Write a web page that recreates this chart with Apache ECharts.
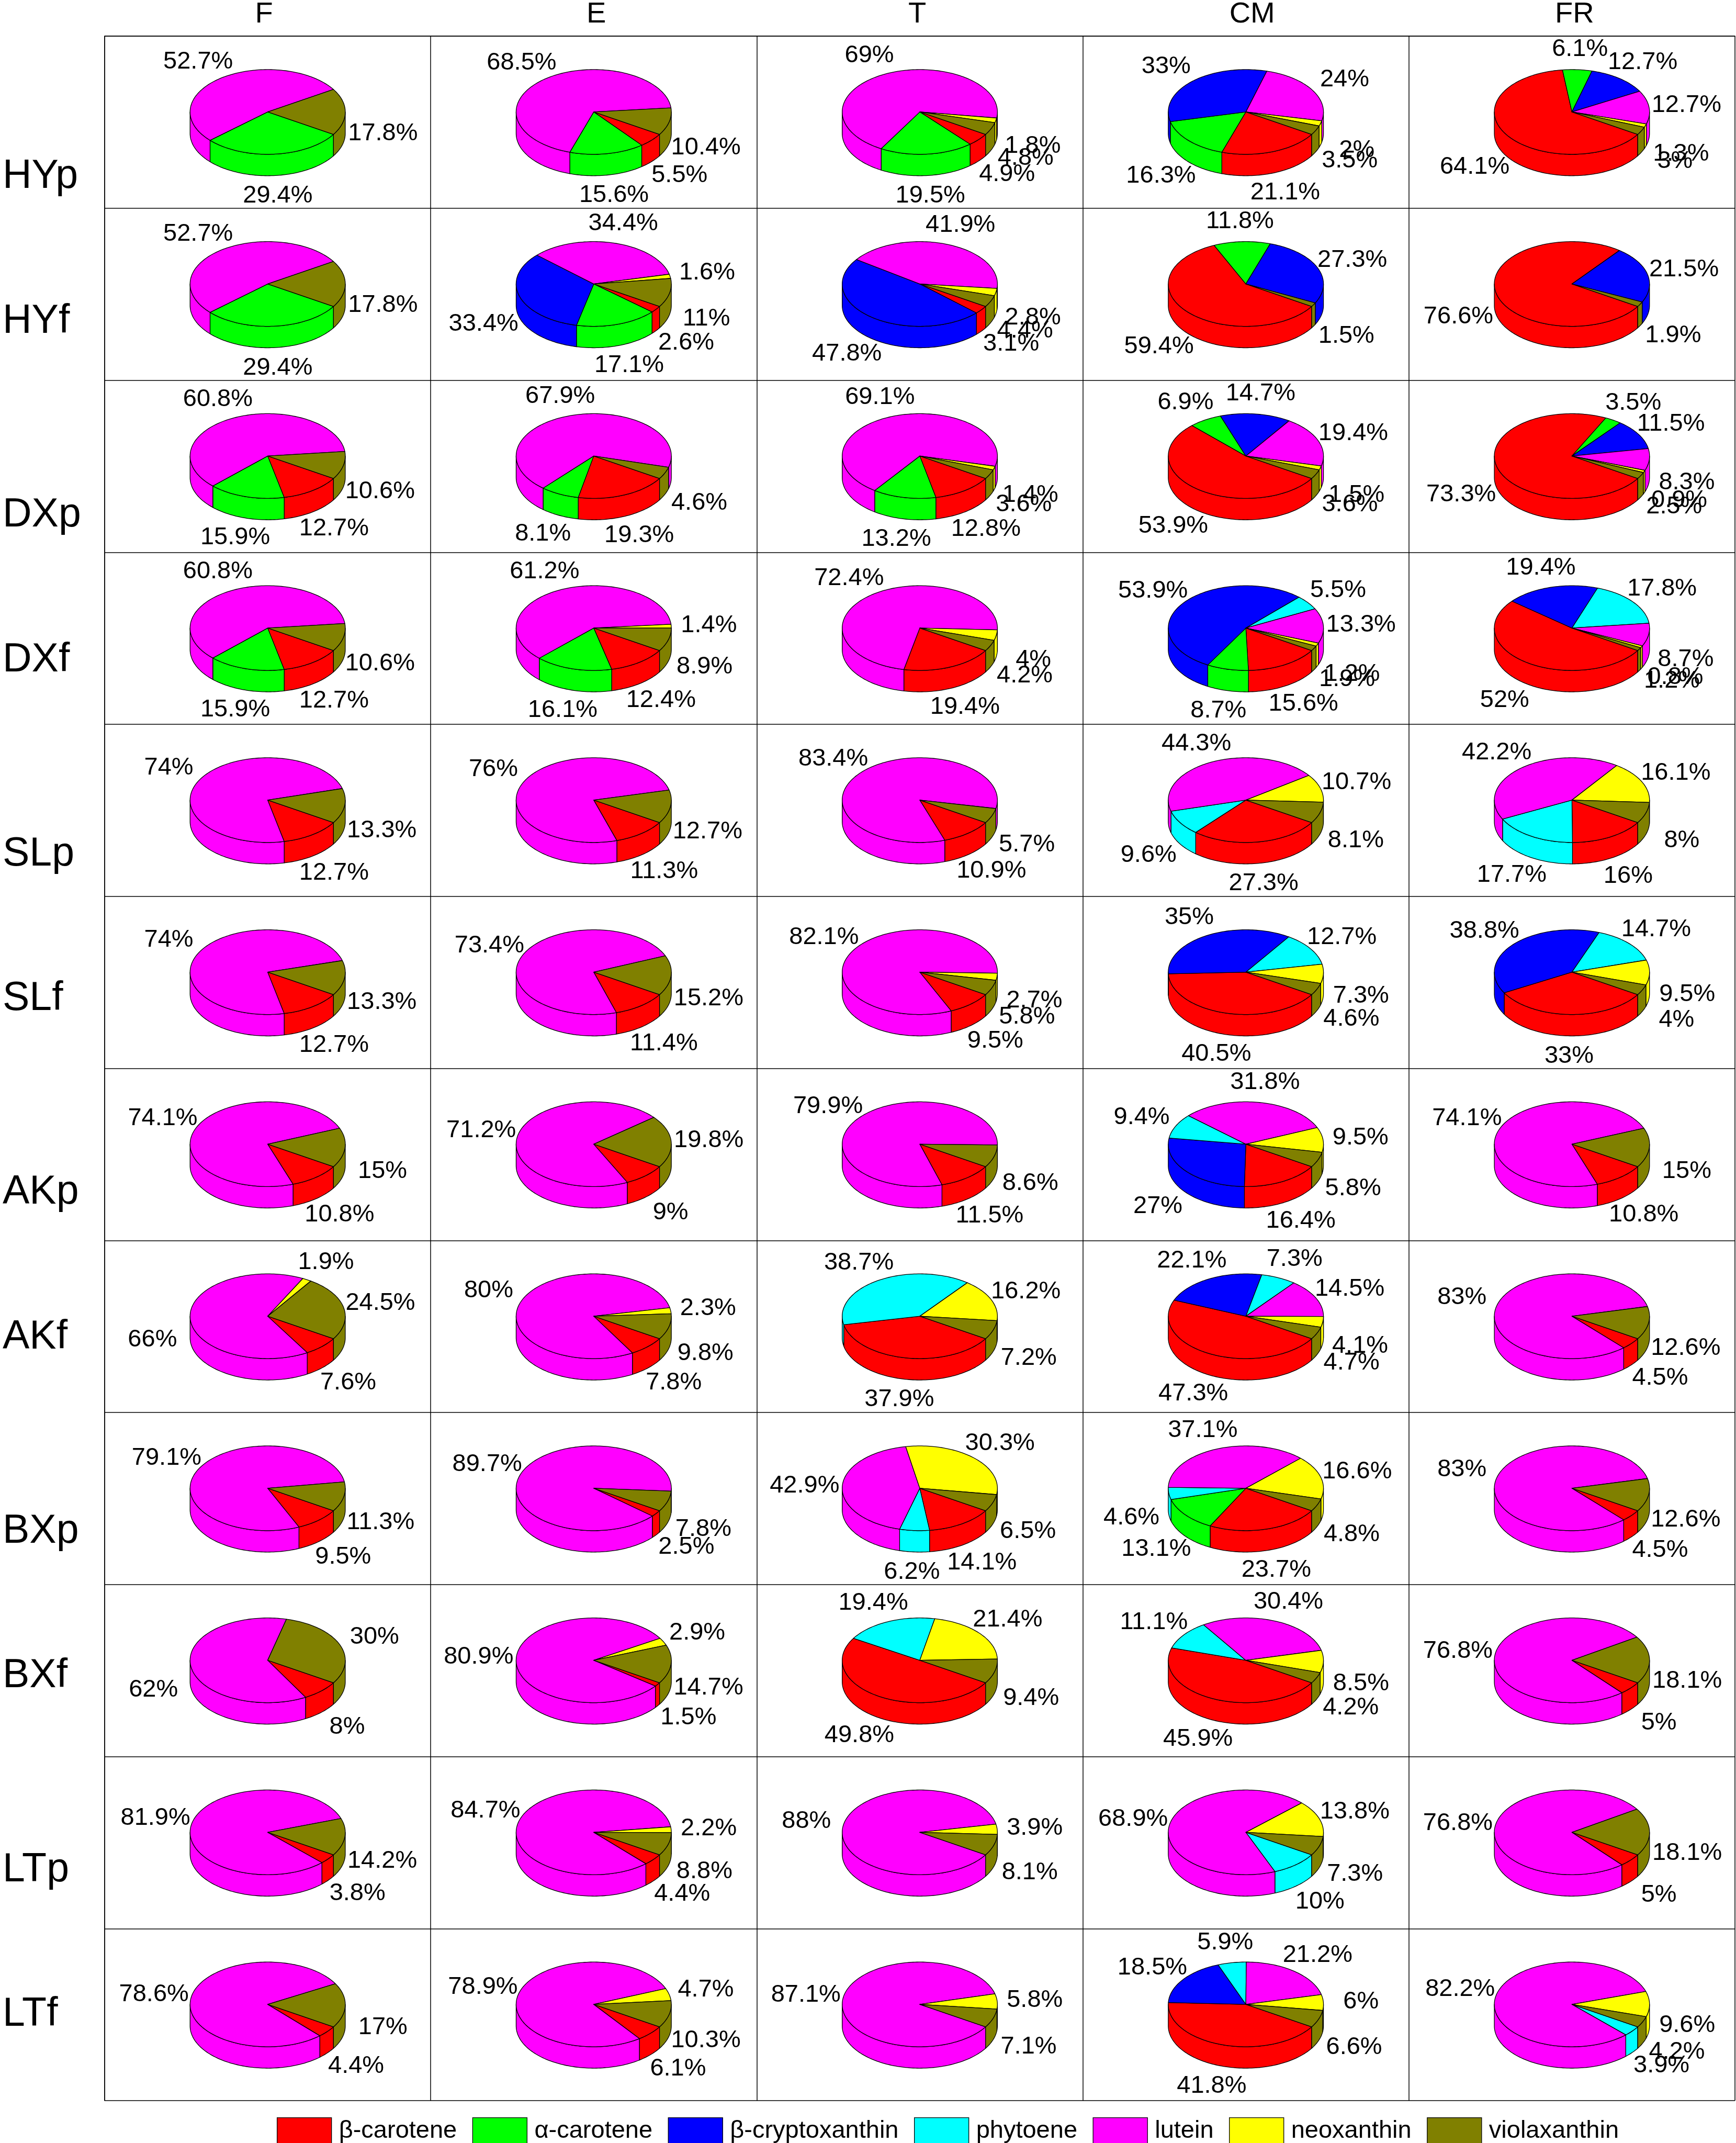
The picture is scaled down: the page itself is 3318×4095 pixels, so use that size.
<!DOCTYPE html>
<html><head><meta charset="utf-8">
<style>html,body{margin:0;padding:0;background:#fff}#c{width:3318px;height:4095px}</style>
<script src="https://cdn.jsdelivr.net/npm/echarts@6/dist/echarts.min.js"></script>
</head><body><div id="c"></div>
<script>
const tissues = ['F','E','T','CM','FR'];
const stages = ['HYp','HYf','DXp','DXf','SLp','SLf','AKp','AKf','BXp','BXf','LTp','LTf'];
const pigments = ['β-carotene','α-carotene','β-cryptoxanthin','phytoene','lutein','neoxanthin','violaxanthin'];
const betaCarotene = [
 [0,5.5,4.9,21.1,64.1],[0,2.6,3.1,59.4,76.6],[12.7,19.3,12.8,53.9,73.3],[12.7,12.4,19.4,15.6,52],
 [12.7,11.3,10.9,27.3,16],[12.7,11.4,9.5,40.5,33],[10.8,9,11.5,16.4,10.8],[7.6,7.8,37.9,47.3,4.5],
 [9.5,2.5,14.1,23.7,4.5],[8,1.5,49.8,45.9,5],[3.8,4.4,0,0,5],[4.4,6.1,0,41.8,0]];
const alphaCarotene = [
 [29.4,15.6,19.5,16.3,6.1],[29.4,17.1,0,11.8,0],[15.9,8.1,13.2,6.9,3.5],[15.9,16.1,0,8.7,0],
 [0,0,0,0,0],[0,0,0,0,0],[0,0,0,0,0],[0,0,0,0,0],
 [0,0,0,13.1,0],[0,0,0,0,0],[0,0,0,0,0],[0,0,0,0,0]];
const betaCryptoxanthin = [
 [0,0,0,33,12.7],[0,33.4,47.8,27.3,21.5],[0,0,0,14.7,11.5],[0,0,0,53.9,19.4],
 [0,0,0,0,0],[0,0,0,35,38.8],[0,0,0,27,0],[0,0,0,22.1,0],
 [0,0,0,0,0],[0,0,0,0,0],[0,0,0,0,0],[0,0,0,18.5,0]];
const phytoene = [
 [0,0,0,0,0],[0,0,0,0,0],[0,0,0,0,0],[0,0,0,5.5,17.8],
 [0,0,0,9.6,17.7],[0,0,0,12.7,14.7],[0,0,0,9.4,0],[0,0,38.7,7.3,0],
 [0,0,6.2,4.6,0],[0,0,19.4,11.1,0],[0,0,0,10,0],[0,0,0,5.9,3.9]];
const lutein = [
 [52.7,68.5,69,24,12.7],[52.7,34.4,41.9,0,0],[60.8,67.9,69.1,19.4,8.3],[60.8,61.2,72.4,13.3,8.7],
 [74,76,83.4,44.3,42.2],[74,73.4,82.1,0,0],[74.1,71.2,79.9,31.8,74.1],[66,80,0,14.5,83],
 [79.1,89.7,42.9,37.1,83],[62,80.9,0,30.4,76.8],[81.9,84.7,88,68.9,76.8],[78.6,78.9,87.1,21.2,82.2]];
const neoxanthin = [
 [0,0,1.8,2,1.3],[0,1.6,2.8,0,0],[0,0,1.4,1.5,0.9],[0,1.4,4,1.2,0.8],
 [0,0,0,10.7,16.1],[0,0,2.7,7.3,9.5],[0,0,0,9.5,0],[1.9,2.3,16.2,4.1,0],
 [0,0,30.3,16.6,0],[0,2.9,21.4,8.5,0],[0,2.2,3.9,13.8,0],[0,4.7,5.8,6,9.6]];
const violaxanthin = [
 [17.8,10.4,4.8,3.5,3],[17.8,11,4.4,1.5,1.9],[10.6,4.6,3.6,3.6,2.5],[10.6,8.9,4.2,1.9,1.2],
 [13.3,12.7,5.7,8.1,8],[13.3,15.2,5.8,4.6,4],[15,19.8,8.6,5.8,15],[24.5,9.8,7.2,4.7,12.6],
 [11.3,7.8,6.5,4.8,12.6],[30,14.7,9.4,4.2,18.1],[14.2,8.8,8.1,7.3,18.1],[17,10.3,7.1,6.6,4.2]];
const pigmentValues = [betaCarotene,alphaCarotene,betaCryptoxanthin,phytoene,lutein,neoxanthin,violaxanthin];

/* styles and layout */
const colors = ['#FF0000','#00FF00','#0000FF','#00FFFF','#FF00FF','#FFFF00','#808000'];
const FONT = '"Liberation Sans", Arial, sans-serif';
const START = 122;                 // clock angle where the first slice begins
const rowShift = [104,53,94,42,84,32,73,21,63,11,53,0]; // row-name offset from the cell centre
const colShift = [-7,5,-5,12,5];   // column-name offset from the cell centre

function arc(cx,cy,rx,ry,a,b){
  const n = Math.max(2,Math.ceil((b-a)/1.5)), pts=[];
  for(let i=0;i<=n;i++){
    const t=(a+(b-a)*i/n)*Math.PI/180;
    pts.push([cx+rx*Math.sin(t),cy-ry*Math.cos(t)]);
  }
  return pts;
}
function renderItem(params,api){
  const c = api.coord([api.value(0),api.value(1)]);
  const size = api.size([1,1]);
  const rx=size[0]*0.238, ry=size[1]*0.2462, depth=size[1]*0.1246;
  const cx=c[0], cy=c[1]-size[1]*0.0593;
  const v=api.value(2), total=api.value(4);
  const a=START+api.value(3)/total*360, b=a+v/total*360;
  const stroke={fill:colors[params.seriesIndex],stroke:'#000',lineWidth:1.3,lineJoin:'round'};
  const kids=[];
  for(const [lo,hi] of [[90,270],[450,630]]){
    const s=Math.max(a,lo), e=Math.min(b,hi);
    if(e>s){
      const up=arc(cx,cy,rx,ry,s,e);
      const down=arc(cx,cy+depth,rx,ry,s,e).reverse();
      kids.push({type:'polygon',shape:{points:up.concat(down)},style:stroke});
    }
  }
  kids.push({type:'polygon',shape:{points:[[cx,cy]].concat(arc(cx,cy,rx,ry,a,b))},style:stroke});
  const m=(a+b)/2, t=m*Math.PI/180, sn=Math.sin(t), cs=Math.cos(t);
  const mm=m%360, front=(mm>=88&&mm<=272)?1:0;
  const hw=72, hh=39;
  kids.push({type:'text',z2:20,style:{
    text:v+'%',x:cx+rx*sn+sn*hw,y:cy-ry*cs+front*depth-cs*hh,
    align:'center',verticalAlign:'middle',font:'47px '+FONT,fill:'#000'}});
  return {type:'group',children:kids};
}
const seriesList = pigments.map((name,p)=>{
  const data=[];
  stages.forEach((_,r)=>tissues.forEach((_,k)=>{
    const v=pigmentValues[p][r][k];
    if(!v) return;
    let before=0,total=0;
    pigmentValues.forEach((arr,q)=>{total+=arr[r][k]; if(q<p) before+=arr[r][k];});
    data.push([k,r,v,before,total]);
  }));
  return {name,type:'custom',coordinateSystem:'cartesian2d',renderItem,data,
    encode:{x:0,y:1},silent:true,clip:false,animation:false,itemStyle:{color:colors[p]}};
});
const rowRich={};
rowShift.forEach((d,i)=>{rowRich['r'+i]={fontFamily:FONT,fontSize:77,color:'#000',
  padding:d>=0?[2*d,0,0,0]:[0,0,-2*d,0]};});
const colRich={};
colShift.forEach((d,i)=>{colRich['c'+i]={fontFamily:FONT,fontSize:56,color:'#000',
  padding:d>=0?[0,0,0,2*d]:[0,-2*d,0,0]};});

const chart=echarts.init(document.getElementById('c'),null,{renderer:'canvas'});
chart.setOption({
  backgroundColor:'#fff',animation:false,
  grid:{left:200,right:2,top:66,bottom:81,containLabel:false},
  legend:{left:524,top:4041,orient:'horizontal',itemWidth:104,itemHeight:50,itemGap:29.5,icon:'rect',
    selectedMode:false,data:pigments,
    itemStyle:{borderColor:'#000',borderWidth:1.3},
    textStyle:{fontFamily:FONT,fontSize:47,color:'#000',padding:[0,0,0,9]}},
  xAxis:{type:'category',position:'top',data:tissues,
    axisLine:{show:true,lineStyle:{color:'#000',width:1.5}},axisTick:{show:false},
    axisLabel:{show:true,interval:0,margin:13,formatter:(v,i)=>`{c${i}|${v}}`,rich:colRich},
    splitLine:{show:true,interval:0,lineStyle:{color:'#000',width:1.5}}},
  yAxis:{type:'category',inverse:true,data:stages,
    axisLine:{show:true,lineStyle:{color:'#000',width:1.5}},axisTick:{show:false},
    axisLabel:{show:true,interval:0,margin:195,align:'left',
      formatter:(v,i)=>`{r${i}|${v}}`,rich:rowRich},
    splitLine:{show:true,interval:0,lineStyle:{color:'#000',width:1.5}}},
  series:seriesList
});
</script></body></html>
